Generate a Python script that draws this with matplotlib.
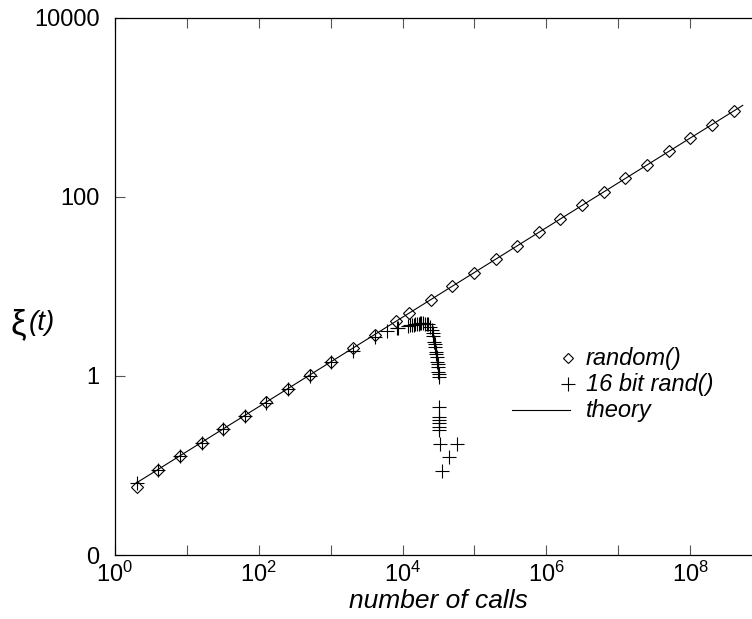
import matplotlib
matplotlib.use('Agg')
import matplotlib.pyplot as plt
from matplotlib.ticker import FixedLocator, FixedFormatter, NullLocator
from matplotlib.lines import Line2D

plt.rcParams['font.family'] = 'Liberation Sans'
plt.rcParams['mathtext.fontset'] = 'custom'
plt.rcParams['mathtext.rm'] = 'Liberation Sans'
plt.rcParams['mathtext.it'] = 'Liberation Sans:italic'

# random() : xi(t) vs number of calls
random_t = [2, 4, 8, 16, 32, 64, 128, 256, 512, 1024, 2048, 4096, 8192,
            12288, 24576, 49152, 98304, 196608, 393216, 786432, 1572864,
            3145728, 6291456, 12582912, 25165824, 50331648, 100663296,
            201326592, 402653184]
random_xi = [0.057, 0.090, 0.127, 0.18, 0.255, 0.36, 0.51, 0.72, 1.02, 1.44,
             2.04, 2.88, 4.07, 4.99, 7.05, 9.98, 14.1, 19.95, 28.2, 39.9,
             56.4, 79.8, 112.9, 159.6, 225.7, 319.3, 451.5, 638.5, 903]

# 16 bit rand()
rand16_t = [2, 4, 8, 16, 32, 64, 128, 256, 512, 1024, 2048, 4096, 6150, 8300, 8700,
            12050, 12700, 13430, 14200, 14930, 16070, 16800, 17510, 18300, 19100,
            20560, 21710, 22860,
            24130, 25480, 26300, 26800, 27420, 27900, 28310, 28960, 29400, 29900,
            30480, 30800, 31190, 31480, 31900, 32200,
            32400, 32450, 32500, 32550, 32600, 32650, 32700, 35100, 44800, 57900]
rand16_xi = [0.063, 0.09, 0.127, 0.18, 0.255, 0.36, 0.5, 0.71, 1.0, 1.41, 1.9, 2.7, 3.13, 3.41, 3.41,
             3.6, 3.65, 3.7, 3.72, 3.75, 3.8, 3.82, 3.85, 3.86, 3.85,
             3.8, 3.8, 3.75,
             3.55, 3.24, 3.02, 2.75, 2.4, 2.25, 2.1, 1.86, 1.74, 1.62,
             1.43, 1.34, 1.26, 1.11, 1.04, 0.98,
             0.454, 0.351, 0.32, 0.296, 0.271, 0.249, 0.174, 0.0875, 0.124, 0.174]

# theory line
theory_t = [2, 5.4e8]
theory_xi = [0.064, 1045]

xtick_pos = [1e0, 1e1, 1e2, 1e3, 1e4, 1e5, 1e6, 1e7, 1e8, 1e9]
xtick_lab = ['$10^{0}$', '', '$10^{2}$', '', '$10^{4}$', '', '$10^{6}$', '', '$10^{8}$', '']
ytick_pos = [1e-2, 1e0, 1e2, 1e4]
ytick_lab = ['0', '1', '100', '10000']

W, H = 752, 619
fig = plt.figure(figsize=(W / 100, H / 100), dpi=100)
ax = fig.add_axes([115 / W, 64 / H, (762 - 115) / W, 537.5 / H])

ax.plot(theory_t, theory_xi, color='black', lw=0.8, zorder=2)
ax.plot(random_t, random_xi, ls='none', marker='D', ms=6.5, mfc='none',
        mec='black', mew=0.8, zorder=3)
ax.plot(rand16_t, rand16_xi, ls='none', marker='+', ms=10, mec='black',
        mew=0.8, zorder=3)

ax.set_xscale('log')
ax.set_yscale('log')
ax.set_xlim(1, 1e9)
ax.set_ylim(1e-2, 1e4)

ax.xaxis.set_major_locator(FixedLocator(xtick_pos))
ax.xaxis.set_major_formatter(FixedFormatter(xtick_lab))
ax.xaxis.set_minor_locator(NullLocator())
ax.yaxis.set_major_locator(FixedLocator(ytick_pos))
ax.yaxis.set_major_formatter(FixedFormatter(ytick_lab))
ax.yaxis.set_minor_locator(NullLocator())

ax.tick_params(axis='both', direction='in', length=7, width=0.8, color='#555555',
               top=True, right=True, labelsize=17)
ax.tick_params(axis='x', pad=5)
ax.tick_params(axis='y', pad=11)
for s in ax.spines.values():
    s.set_linewidth(0.9)

ax.set_xlabel('number of calls', fontsize=19, style='italic', labelpad=1)

# y label: upright xi, italic (t)
fig.text(10 / W, 1 - 325 / H, 'ξ', fontsize=25, ha='left', va='center')
fig.text(29 / W, 1 - 323 / H, '(t)', fontsize=20, style='italic', ha='left', va='center')

# legend, drawn by hand like the original (symbol at right end of line)
def fx(px):
    return px / W

def fy(py):
    return 1 - py / H

fig.add_artist(Line2D([fx(568)], [fy(358)], marker='D', ms=5.5, mfc='none',
                      mec='black', mew=0.8, ls='none'))
fig.add_artist(Line2D([fx(568)], [fy(384)], marker='+', ms=9.5, mec='black',
                      mew=0.8, ls='none'))
fig.add_artist(Line2D([fx(512), fx(570)], [fy(410), fy(410)], color='black', lw=0.8))
for py, txt in [(358, 'random()'), (384, '16 bit rand()'), (410, 'theory')]:
    fig.text(fx(586), fy(py), txt, fontsize=17, style='italic', ha='left', va='center')

fig.savefig('out.png', dpi=100)
